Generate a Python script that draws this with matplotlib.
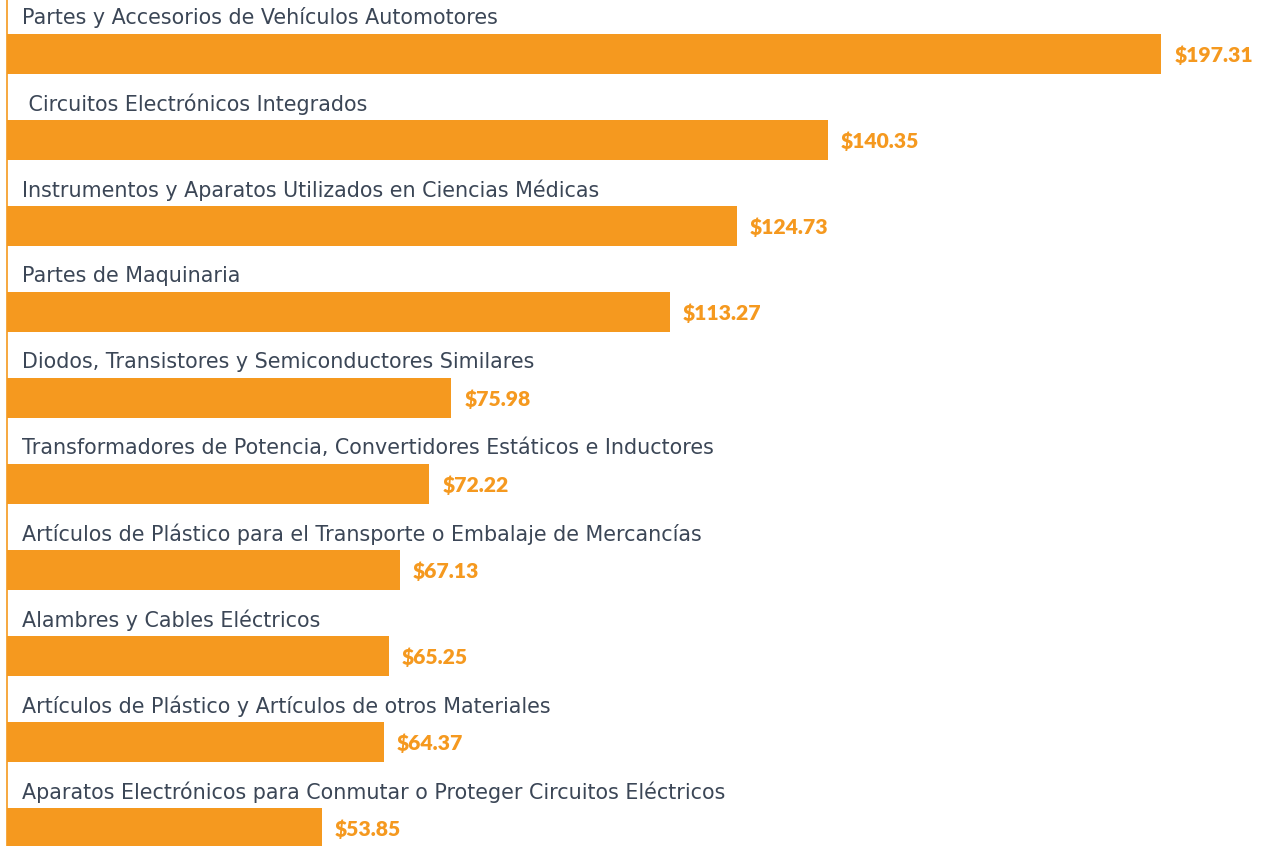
import matplotlib
matplotlib.use("Agg")
import matplotlib.pyplot as plt

categories = [
    "Partes y Accesorios de Vehículos Automotores",
    " Circuitos Electrónicos Integrados",
    "Instrumentos y Aparatos Utilizados en Ciencias Médicas",
    "Partes de Maquinaria",
    "Diodos, Transistores y Semiconductores Similares",
    "Transformadores de Potencia, Convertidores Estáticos e Inductores",
    "Artículos de Plástico para el Transporte o Embalaje de Mercancías",
    "Alambres y Cables Eléctricos",
    "Artículos de Plástico y Artículos de otros Materiales",
    "Aparatos Electrónicos para Conmutar o Proteger Circuitos Eléctricos",
]
values = [197.31, 140.35, 124.73, 113.27, 75.98, 72.22, 67.13, 65.25, 64.37, 53.85]
value_labels = ["$197.31", "$140.35", "$124.73", "$113.27", "$75.98",
                "$72.22", "$67.13", "$65.25", "$64.37", "$53.85"]

W, H = 1269, 846
BAR = "#F5991F"
TXT = "#3B4656"

fig = plt.figure(figsize=(W / 100, H / 100), dpi=100)
ax = fig.add_axes([0, 0, 1, 1])

k = 5.85  # px per unit
x0 = 7
ax.set_xlim(-x0 / k, (W - x0) / k)
ax.set_ylim(H, 0)

pitch = 86
centers = [54 + pitch * i for i in range(len(values))]
ax.barh(centers, values, height=40, color=BAR, edgecolor="none")
ax.axvline(0, color=BAR, lw=1.2)

for c, cat, v, lab in zip(centers, categories, values, value_labels):
    ax.text(15 / k, c - 36, cat, ha="left", va="center", fontsize=14.9,
            color=TXT, family=["DejaVu Sans"])
    ax.text(v + 13 / k, c + 1, lab, ha="left", va="center", fontsize=15.2,
            color=BAR, family=["Lato", "DejaVu Sans"], fontweight="heavy")

ax.axis("off")
fig.savefig("out.png", dpi=100)
